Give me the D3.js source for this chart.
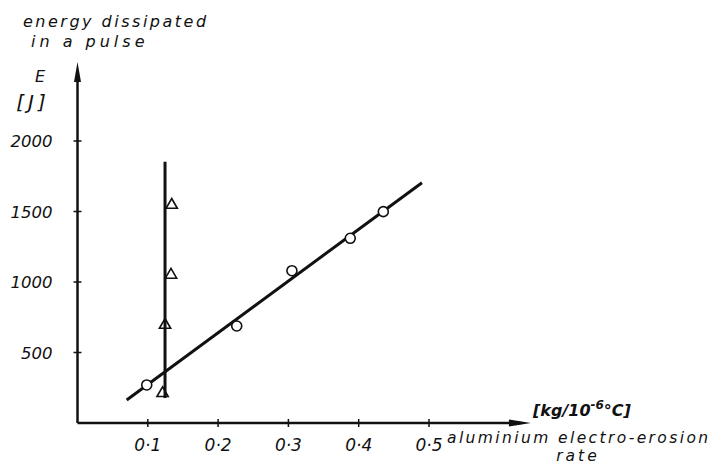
<!DOCTYPE html>
<html>
<head>
<meta charset="utf-8">
<script src="https://cdn.jsdelivr.net/npm/d3@7"></script>
<style>
  body { margin: 0; background: #fff; }
  text { font-family: "DejaVu Sans", sans-serif; font-style: italic; fill: #111; }
</style>
</head>
<body>
<div id="svg"></div>
<script>
// values
var circleX = [0.0985, 0.2265, 0.305, 0.388, 0.435];
var circleE = [270, 688, 1080, 1310, 1499];
var triangleX = [0.134, 0.133, 0.1245, 0.121];
var triangleE = [1546, 1050, 695, 211];
var fitLineX = [0.070, 0.490];
var fitLineE = [163, 1704];
var vertLineX = [0.1245, 0.1245];
var vertLineE = [1853, 177];
var xTicks = [0.1, 0.2, 0.3, 0.4, 0.5];
var xTickLabels = ["0·1", "0·2", "0·3", "0·4", "0·5"];
var yTicks = [500, 1000, 1500, 2000];
var yTickLabels = ["500", "1000", "1500", "2000"];
var xAxisEnd = 0.645, yAxisEnd = 2560;

var svgContainer = d3.select("div#svg").append("svg")
                     .attr("width", 719)
                     .attr("height", 465);

var x = d3.scaleLinear().domain([0, 0.5]).range([77.5, 429]);
var y = d3.scaleLinear().domain([0, 2000]).range([423, 141]);

// axes with arrows
svgContainer.append("line")
            .attr("x1", x(0)).attr("y1", y(0))
            .attr("x2", x(xAxisEnd) - 10).attr("y2", y(0))
            .attr("stroke", "#111").attr("stroke-width", 2.5);
svgContainer.append("path")
            .attr("d", "M" + x(xAxisEnd) + "," + y(0) + " l-22,-3.5 l0,7 z")
            .attr("fill", "#111");
svgContainer.append("line")
            .attr("x1", x(0)).attr("y1", y(0))
            .attr("x2", x(0)).attr("y2", y(yAxisEnd) + 10)
            .attr("stroke", "#111").attr("stroke-width", 2.5);
svgContainer.append("path")
            .attr("d", "M" + x(0) + "," + y(yAxisEnd) + " l-3.5,20 l7,0 z")
            .attr("fill", "#111");

// ticks
svgContainer.selectAll(".xtick").data(xTicks).enter().append("line")
            .attr("x1", function(d){ return x(d); }).attr("x2", function(d){ return x(d); })
            .attr("y1", y(0) - 4).attr("y2", y(0) + 4)
            .attr("stroke", "#111").attr("stroke-width", 1.5);
svgContainer.selectAll(".ytick").data(yTicks).enter().append("line")
            .attr("y1", function(d){ return y(d); }).attr("y2", function(d){ return y(d); })
            .attr("x1", x(0) - 4).attr("x2", x(0) + 4)
            .attr("stroke", "#111").attr("stroke-width", 1.5);

svgContainer.selectAll(".xlab").data(xTicks).enter().append("text")
            .attr("x", function(d){ return x(d); })
            .attr("y", y(0) + 28)
            .attr("text-anchor", "middle")
            .attr("font-size", 17)
            .text(function(d, i){ return xTickLabels[i]; });
svgContainer.selectAll(".ylab").data(yTicks).enter().append("text")
            .attr("x", x(0) - 25)
            .attr("y", function(d){ return y(d) + 6; })
            .attr("text-anchor", "end")
            .attr("font-size", 16.5)
            .text(function(d, i){ return yTickLabels[i]; });

// lines
svgContainer.append("line")
            .attr("x1", x(fitLineX[0])).attr("y1", y(fitLineE[0]))
            .attr("x2", x(fitLineX[1])).attr("y2", y(fitLineE[1]))
            .attr("stroke", "#111").attr("stroke-width", 3);
svgContainer.append("line")
            .attr("x1", x(vertLineX[0])).attr("y1", y(vertLineE[0]))
            .attr("x2", x(vertLineX[1])).attr("y2", y(vertLineE[1]))
            .attr("stroke", "#111").attr("stroke-width", 3);

// points
svgContainer.selectAll(".circ").data(circleX).enter().append("circle")
            .attr("cx", function(d){ return x(d); })
            .attr("cy", function(d, i){ return y(circleE[i]); })
            .attr("r", 5)
            .attr("fill", "#fff").attr("stroke", "#111").attr("stroke-width", 1.6);
var tri = d3.symbol().type(d3.symbolTriangle).size(55);
svgContainer.selectAll(".tri").data(triangleX).enter().append("path")
            .attr("d", tri)
            .attr("transform", function(d, i){ return "translate(" + x(d) + "," + y(triangleE[i]) + ")"; })
            .attr("fill", "none").attr("stroke", "#111").attr("stroke-width", 1.6);

// axis titles
svgContainer.append("text").attr("x", 23).attr("y", 27)
            .attr("font-size", 16).attr("letter-spacing", 2.5)
            .text("energy dissipated");
svgContainer.append("text").attr("x", 31).attr("y", 47)
            .attr("font-size", 16).attr("letter-spacing", 4)
            .text("in a pulse");
svgContainer.append("text").attr("x", 40).attr("y", 82)
            .attr("text-anchor", "middle").attr("font-size", 16)
            .text("E");
svgContainer.append("text").attr("x", 33).attr("y", 109)
            .attr("text-anchor", "middle").attr("font-size", 20).attr("letter-spacing", 4)
            .text("[J]");

var unit = svgContainer.append("text").attr("x", 533).attr("y", 416)
                       .attr("font-size", 16).attr("font-weight", "bold");
unit.append("tspan").text("[kg/10");
unit.append("tspan").attr("dy", -7).attr("font-size", 12).text("-6");
unit.append("tspan").attr("dy", 7).text("°C]");

svgContainer.append("text").attr("x", 447).attr("y", 443)
            .attr("font-size", 15.5).attr("letter-spacing", 2.4)
            .text("aluminium  electro-erosion");
svgContainer.append("text").attr("x", 578).attr("y", 461)
            .attr("text-anchor", "middle").attr("font-size", 15.5).attr("letter-spacing", 3)
            .text("rate");
</script>
</body>
</html>
